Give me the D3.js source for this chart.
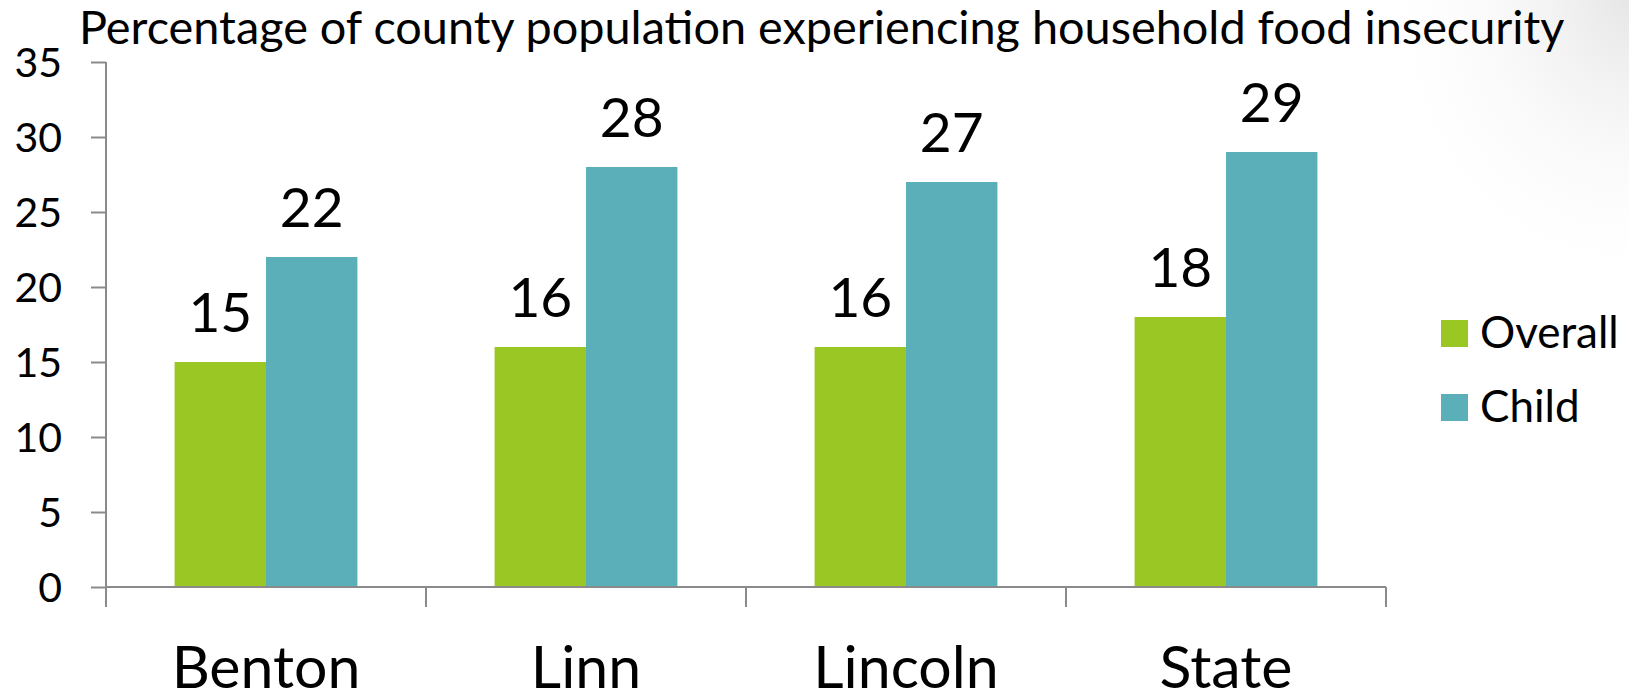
<!DOCTYPE html>
<html><head><meta charset="utf-8">
<script src="https://cdn.jsdelivr.net/npm/d3@7"></script>
<style>html,body{margin:0;padding:0;background:#fff;overflow:hidden}svg{display:block;font-family:Lato,"Open Sans",sans-serif}</style>
</head><body>
<script>
const categories = ["Benton", "Linn", "Lincoln", "State"];
const seriesNames = ["Overall", "Child"];
const overallValues = [15, 16, 16, 18];
const childValues = [22, 28, 27, 29];
const yTicks = [0, 5, 10, 15, 20, 25, 30, 35];
const title = "Percentage of county population experiencing household food insecurity";
const colors = ["#9BC724", "#5BAFB8"];

const W = 1629, H = 692;
const svg = d3.select("body").append("svg").attr("width", W).attr("height", H);

// faint slide shading in the top-right corner
const defs = svg.append("defs");
const rg = defs.append("radialGradient").attr("id", "shade").attr("cx", 1).attr("cy", 0).attr("r", 1);
rg.append("stop").attr("offset", "0").attr("stop-color", "#e6e6e6");
rg.append("stop").attr("offset", "1").attr("stop-color", "#ffffff").attr("stop-opacity", 0);
svg.append("rect").attr("x", W - 260).attr("y", 0).attr("width", 260).attr("height", 300).attr("fill", "url(#shade)");

const x = d3.scaleBand().domain(categories).range([106, 1386]).paddingInner(0).paddingOuter(0);
const xs = d3.scaleBand().domain(seriesNames).range([0, x.bandwidth()]).paddingInner(0).paddingOuter(0.75);
const y = d3.scaleLinear().domain([0, 35]).range([587, 62]);

const data = categories.map((c, i) => ({cat: c, vals: [
  {s: "Overall", v: overallValues[i]}, {s: "Child", v: childValues[i]}]}));

const axisColor = "#8a8a8a";

// bars
const g = svg.append("g");
const groups = g.selectAll("g.cat").data(data).join("g").attr("transform", d => `translate(${x(d.cat)},0)`);
groups.selectAll("rect").data(d => d.vals).join("rect")
  .attr("x", d => xs(d.s)).attr("width", xs.bandwidth())
  .attr("y", d => y(d.v)).attr("height", d => y(0) - y(d.v))
  .attr("fill", (d, i) => colors[i]);
groups.selectAll("text").data(d => d.vals).join("text")
  .attr("x", d => xs(d.s) + xs.bandwidth() / 2).attr("y", d => y(d.v) - 30)
  .attr("text-anchor", "middle").attr("font-size", 55).attr("fill", "#000")
  .text(d => d.v);

// y axis
const yAxis = svg.append("g").attr("transform", "translate(106,0)")
  .call(d3.axisLeft(y).tickValues(yTicks).tickSize(15).tickPadding(29).tickSizeOuter(0));
yAxis.select(".domain").remove();
yAxis.selectAll(".tick line").attr("stroke", axisColor).attr("stroke-width", 2);
yAxis.selectAll(".tick text").attr("font-size", 41).attr("fill", "#000").attr("font-family", "Lato").attr("dy", "0.36em");
svg.append("line").attr("x1", 106).attr("x2", 106).attr("y1", y(35)).attr("y2", y(0) + 20)
  .attr("stroke", axisColor).attr("stroke-width", 2);

// x axis
svg.append("line").attr("x1", 106).attr("x2", 1386).attr("y1", y(0)).attr("y2", y(0))
  .attr("stroke", axisColor).attr("stroke-width", 2);
const bounds = categories.map(c => x(c)).concat([x(categories[categories.length - 1]) + x.bandwidth()]);
svg.selectAll("line.xt").data(bounds).join("line").attr("class", "xt")
  .attr("x1", d => d).attr("x2", d => d).attr("y1", y(0)).attr("y2", y(0) + 20)
  .attr("stroke", axisColor).attr("stroke-width", 2);
svg.selectAll("text.cat").data(categories).join("text").attr("class", "cat")
  .attr("x", d => x(d) + x.bandwidth() / 2).attr("y", 688)
  .attr("text-anchor", "middle").attr("font-size", 59).attr("fill", "#000").text(d => d);

// title
const t = svg.append("text").attr("x", 79).attr("y", 44).attr("font-size", 40).attr("fill", "#000").text(title);
const tw = t.node().getComputedTextLength();
t.attr("font-size", 40 * 1486 / tw);

// legend
const leg = svg.append("g");
seriesNames.forEach((s, i) => {
  const yy = 320 + i * 74;
  leg.append("rect").attr("x", 1441).attr("y", yy).attr("width", 27).attr("height", 27).attr("fill", colors[i]);
  leg.append("text").attr("x", 1480).attr("y", yy + 28).attr("font-size", 44).attr("fill", "#000").text(s);
});
</script>
</body></html>
